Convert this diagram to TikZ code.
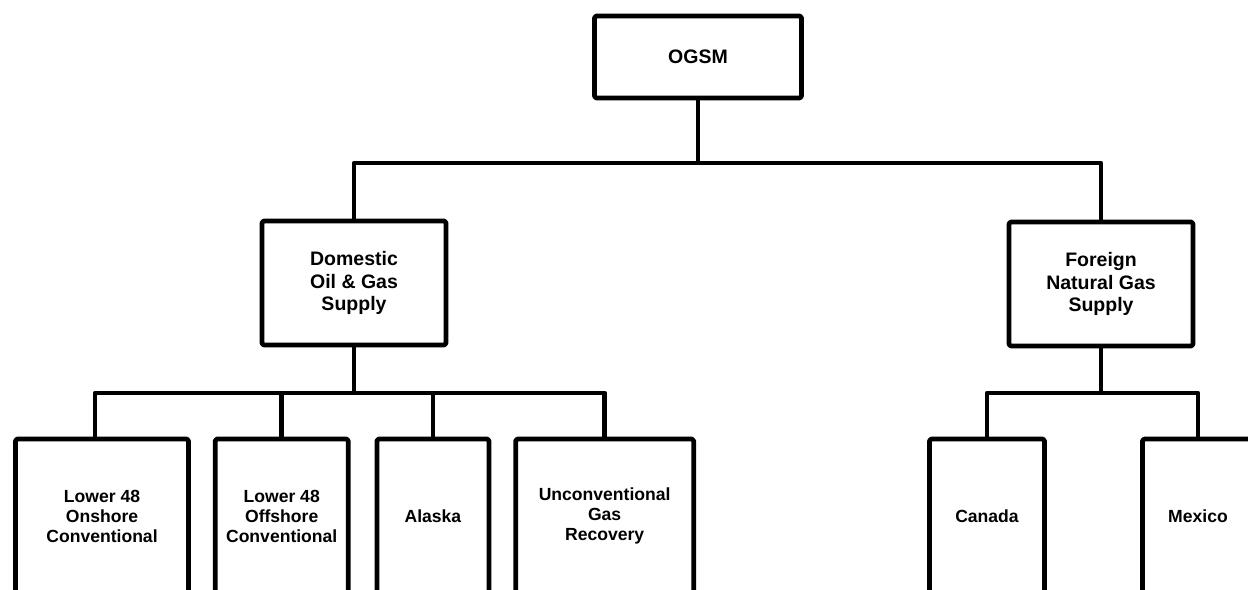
\documentclass[tikz,border=0pt]{standalone}
\usepackage{fontspec}
\setmainfont{Liberation Sans}
\usetikzlibrary{positioning}

\begin{document}
\begin{tikzpicture}[x=0.02cm,y=-0.02cm,font=\bfseries\fontsize{10}{11.4}\selectfont,
  line width=0.095cm,line join=round,node distance=0.44cm,
  blk/.style={draw,align=center,inner sep=0pt,rounded corners=1pt},
  head/.style={blk,font=\bfseries\fontsize{11.1}{12.9}\selectfont},
  leaf/.style={blk,minimum height=3.08cm}]
  \useasboundingbox (0,0) rectangle (1248,590);
  \clip (0,0) rectangle (1248,590);
  % top level
  \node[head,minimum width=4.14cm,minimum height=1.64cm] (ogsm) at (698,57) {OGSM};
  \node[head,minimum width=3.68cm,minimum height=2.48cm] (dom) at (354,283) {Domestic\\Oil \& Gas\\Supply};
  \node[head,minimum width=3.68cm,minimum height=2.48cm] (frn) at (1101,284) {Foreign\\Natural Gas\\Supply};
  % domestic branches
  \node[leaf,minimum width=3.46cm] (lon) at (102,516) {Lower 48\\Onshore\\Conventional};
  \node[leaf,minimum width=2.66cm,right=0.44cm of lon] (off) {Lower 48\\Offshore\\Conventional};
  \node[leaf,minimum width=2.24cm,right=0.48cm of off] (ala) {Alaska};
  \node[leaf,minimum width=3.56cm,right=0.44cm of ala] (unc) {Unconventional\\Gas\\Recovery};
  % foreign branches
  \node[leaf,minimum width=2.3cm] (can) at (987,516) {Canada};
  \node[leaf,minimum width=2.22cm] (mex) at (1198,516) {Mexico};
  % connectors
  \coordinate (bus1) at (698,163);
  \coordinate (bus2) at (354,393);
  \coordinate (bus3) at (1101,393);
  \draw (ogsm) -- (bus1);
  \draw (dom.north) |- (bus1) -| (frn.north);
  \draw (dom) -- (bus2);
  \draw ([xshift=-0.14cm]lon.north) |- (bus2) -| (unc.north);
  \draw (off.north) -- (off.north|-bus2);
  \draw (ala.north) -- (ala.north|-bus2);
  \draw (frn) -- (bus3);
  \draw (can.north) |- (bus3) -| (mex.north);
\end{tikzpicture}
\end{document}
